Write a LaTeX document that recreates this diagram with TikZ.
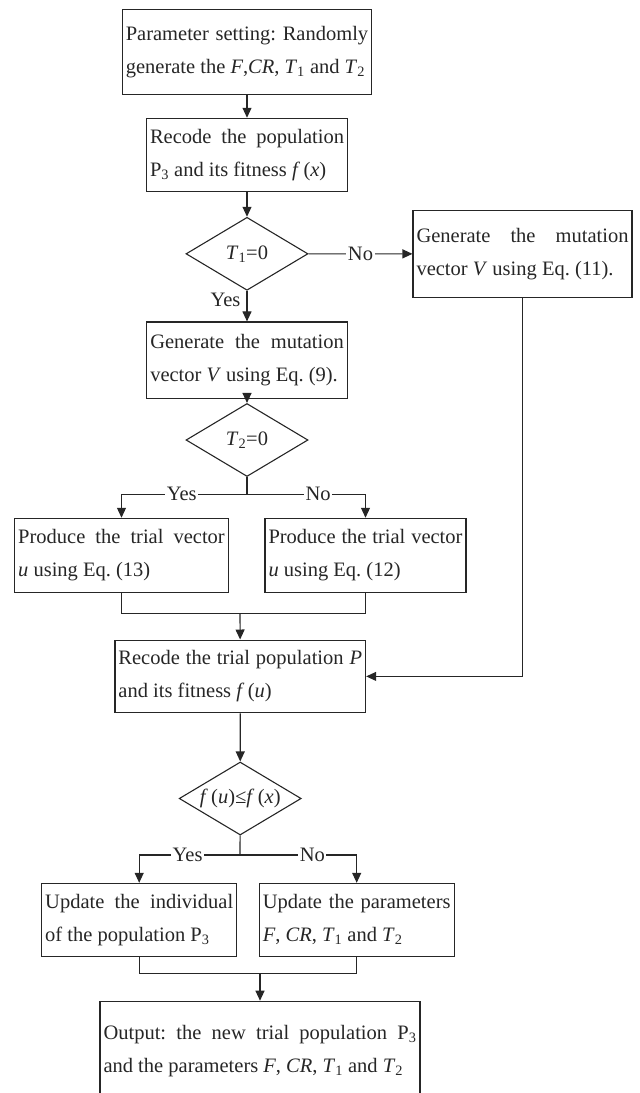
\documentclass[tikz,border=0pt]{standalone}
\usepackage{fontspec}
\setmainfont{Liberation Serif}
\usetikzlibrary{arrows.meta,shapes.geometric}
\tikzstyle{line} = [draw, line width=1.1pt, black!85]
\tikzstyle{arrow} = [line, -{Triangle[length=10pt,width=9pt]}]

\begin{document}
\frenchspacing
\begin{tikzpicture}
[x=1pt, y=-1pt,
process/.style={draw, line width=1.1pt, black!85, text=black!85, inner xsep=3.5pt, inner ysep=0pt,
  align=justify, font=\fontsize{20.5}{33}\selectfont},
decision/.style={shape=diamond, draw, line width=1.1pt, black!85, text=black!85, inner sep=0pt,
  aspect=1.7, minimum width=122pt, minimum height=73pt, font=\fontsize{20.5}{33}\selectfont},
answer/.style={fill=white, inner sep=1.5pt, text=black!85, font=\fontsize{20.5}{33}\selectfont}]

\useasboundingbox (0,0) rectangle (640,1093);
\clip (0,0) rectangle (640,1093);

%% boxes
\node[process, text width=242.4pt, minimum height=85pt] (setting) at (247,51.8)
  {Parameter setting: Randomly\linebreak generate the \textit{F},\textit{CR}, \textit{T}\textsubscript{1} and \textit{T}\textsubscript{2}};
\node[process, text width=194pt, minimum height=73.4pt] (recode) at (247,155)
  {Recode the population\linebreak P\textsubscript{3} and its fitness \textit{f}\,(\textit{x})};
\node[process, text width=212pt, minimum height=87.2pt] (mutB) at (522.5,253.9)
  {Generate the mutation\linebreak vector \textit{V} using Eq.\ (11).};
\node[process, text width=193.5pt, minimum height=76.7pt] (mutA) at (247,360.3)
  {Generate the mutation\linebreak vector \textit{V} using Eq.\ (9).};
\node[process, text width=206.6pt, minimum height=74pt] (trialA) at (121.5,555.3)
  {Produce the trial vector\linebreak \textit{u} using Eq.\ (13)};
\node[process, text width=194pt, minimum height=74pt] (trialB) at (365.5,555.3)
  {Produce the trial vector\linebreak \textit{u} using Eq.\ (12)};
\node[process, text width=243.7pt, minimum height=72.7pt] (recodeTrial) at (240.3,676.4)
  {Recode the trial population \textit{P}\linebreak and its fitness \textit{f}\,(\textit{u})};
\node[process, text width=188pt, minimum height=72.7pt] (updInd) at (139.2,919.7)
  {Update the individual\linebreak of the population P\textsubscript{3}};
\node[process, text width=187.7pt, minimum height=72.7pt] (updPar) at (356.7,919.7)
  {Update the parameters\linebreak \textit{F}, \textit{CR}, \textit{T}\textsubscript{1} and \textit{T}\textsubscript{2}};
\node[process, text width=313pt, minimum height=100pt, anchor=north] (output) at (260,1000.7)
  {Output: the new trial population P\textsubscript{3}\linebreak and the parameters \textit{F}, \textit{CR}, \textit{T}\textsubscript{1} and \textit{T}\textsubscript{2}};

%% decisions
\foreach \nodename/\x/\y/\txt in {
testA/247/253.8/{\textit{T}\textsubscript{1}=0}, testB/247/440/{\textit{T}\textsubscript{2}=0},
select/240.2/798.5/{\textit{f}\,(\textit{u})\textit{≤f}\,(\textit{x})}}
{
\node[decision] (\nodename) at (\x,\y) {\txt};
}

\coordinate (forkA) at (247,494.3);
\coordinate (joinA) at (240,613.3);
\coordinate (forkB) at (240,855);
\coordinate (joinB) at (260,973.3);

%% arrows
\path
\foreach \startnode/\endnode in {setting/recode, recode/testA, mutA/testB, recodeTrial/select, joinA/recodeTrial, joinB/output}
{
(\startnode) edge[arrow] (\endnode)
};
\path (testA) edge[arrow] node[answer] {No} (mutB)
      (testA) edge[arrow] node[answer, left=4.5pt, pos=.3] {Yes} (mutA);
\draw[arrow] (mutB) |- (recodeTrial);

%% branches
\draw[line] (testB) -- (forkA);
\draw[arrow] (forkA) -| node[answer, pos=.26] {Yes} (trialA);
\draw[arrow] (forkA) -| node[answer, pos=.3] {No} (trialB);
\draw[line] (trialA) |- (joinA) -| (trialB);

\draw[line] (select) -- (forkB);
\draw[arrow] (forkB) -| node[answer, pos=.26] {Yes} (updInd);
\draw[arrow] (forkB) -| node[answer, pos=.31] {No} (updPar);
\draw[line] (updInd) |- (joinB) -| (updPar);

\end{tikzpicture}
\end{document}
